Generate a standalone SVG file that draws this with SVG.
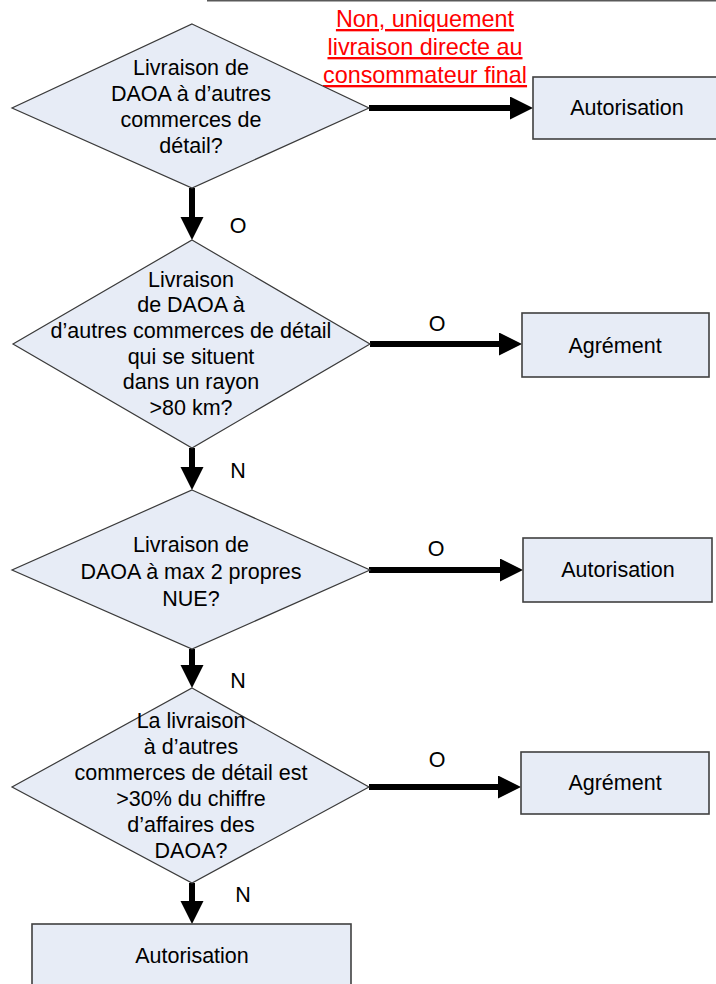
<svg xmlns="http://www.w3.org/2000/svg" width="716" height="984" viewBox="0 0 716 984">
<defs>
<style>
.shape{fill:#E7ECF6;stroke:#3a3a3a;stroke-width:1.2}
.box{fill:#E7ECF6;stroke:#404040;stroke-width:1.6}
.t{font-family:"Liberation Sans",Arial,sans-serif;font-size:21.5px;fill:#000;text-anchor:middle}
.red{font-family:"Liberation Sans",Arial,sans-serif;font-size:23.4px;fill:#FF0000;text-anchor:middle;text-decoration:underline}
.conn{stroke:#000;stroke-width:6;fill:none}
</style>
<marker id="ah" markerUnits="userSpaceOnUse" markerWidth="24" markerHeight="24" refX="13" refY="11.5" orient="auto" viewBox="0 0 24 24">
<path d="M0,0 L23,11.5 L0,23 z" fill="#000"/>
</marker>
</defs>
<rect width="716" height="984" fill="#fff"/>
<line x1="207" y1="0.8" x2="716" y2="0.8" stroke="#595959" stroke-width="1.6"/>

<g id="connectors">
<line class="conn" x1="192" y1="188" x2="192" y2="230" marker-end="url(#ah)"/>
<line class="conn" x1="192" y1="448" x2="192" y2="480" marker-end="url(#ah)"/>
<line class="conn" x1="192" y1="649" x2="192" y2="678" marker-end="url(#ah)"/>
<line class="conn" x1="192" y1="883" x2="192" y2="914" marker-end="url(#ah)"/>
<line class="conn" x1="369" y1="108" x2="523" y2="108" marker-end="url(#ah)"/>
<line class="conn" x1="370" y1="344" x2="512" y2="344" marker-end="url(#ah)"/>
<line class="conn" x1="369" y1="570" x2="513" y2="570" marker-end="url(#ah)"/>
<line class="conn" x1="369" y1="787" x2="511" y2="787" marker-end="url(#ah)"/>
<text class="red" x="425" y="27">Non, uniquement</text>
<text class="red" x="425" y="55">livraison directe au</text>
<text class="red" x="425" y="83">consommateur final</text>
<text class="t" x="238" y="233">O</text>
<text class="t" x="238" y="478">N</text>
<text class="t" x="238" y="688">N</text>
<text class="t" x="243" y="902">N</text>
<text class="t" x="437" y="331">O</text>
<text class="t" x="436" y="556">O</text>
<text class="t" x="437" y="767">O</text>
</g>

<g id="d1">
<polygon class="shape" points="192,24 369,108 192,188 12,108"/>
<text class="t" x="191" y="75">Livraison de</text>
<text class="t" x="191" y="101">DAOA à d’autres</text>
<text class="t" x="191" y="127">commerces de</text>
<text class="t" x="191" y="153">détail?</text>
</g>

<g id="b1">
<rect class="box" x="533" y="77" width="200" height="62"/>
<text class="t" x="627" y="115">Autorisation</text>
</g>

<g id="d2">
<polygon class="shape" points="192,240 370,344 192,448 13,344"/>
<text class="t" x="191" y="287">Livraison</text>
<text class="t" x="191" y="312">de DAOA à</text>
<text class="t" x="191" y="338">d’autres commerces de détail</text>
<text class="t" x="191" y="364">qui se situent</text>
<text class="t" x="191" y="389">dans un rayon</text>
<text class="t" x="191" y="415">&gt;80 km?</text>
</g>

<g id="b2">
<rect class="box" x="522" y="313" width="187" height="64"/>
<text class="t" x="615" y="353">Agrément</text>
</g>

<g id="d3">
<polygon class="shape" points="192,490 370,570 192,649 12,570"/>
<text class="t" x="191" y="552">Livraison de</text>
<text class="t" x="191" y="579">DAOA à max 2 propres</text>
<text class="t" x="191" y="606">NUE?</text>
</g>

<g id="b3">
<rect class="box" x="523" y="538" width="189" height="64"/>
<text class="t" x="618" y="577">Autorisation</text>
</g>

<g id="d4">
<polygon class="shape" points="192,688 369,787 192,883 12,787"/>
<text class="t" x="191" y="728">La livraison</text>
<text class="t" x="191" y="754">à d’autres</text>
<text class="t" x="191" y="780">commerces de détail est</text>
<text class="t" x="191" y="806">&gt;30% du chiffre</text>
<text class="t" x="191" y="832">d’affaires des</text>
<text class="t" x="191" y="858">DAOA?</text>
</g>

<g id="b4">
<rect class="box" x="521" y="752" width="188" height="62"/>
<text class="t" x="615" y="790">Agrément</text>
</g>

<g id="b5">
<rect class="box" x="32" y="924" width="319" height="80"/>
<text class="t" x="192" y="963">Autorisation</text>
</g>
</svg>
